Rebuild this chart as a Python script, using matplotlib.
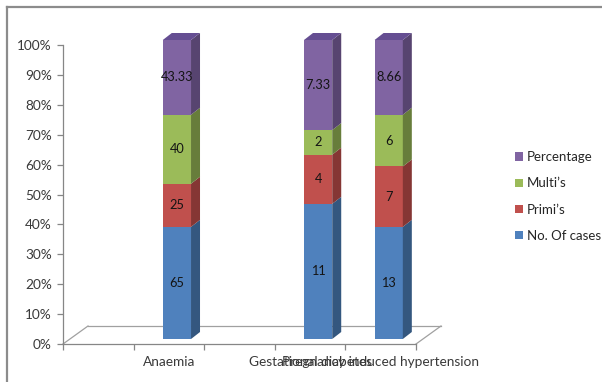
import numpy as np
import matplotlib
matplotlib.use("Agg")
import matplotlib.pyplot as plt
import matplotlib.transforms as mtransforms
from matplotlib.patches import Polygon, Patch
from matplotlib.lines import Line2D

plt.rcParams['font.family'] = ['Lato', 'DejaVu Sans']

# ---- data ----
categories = ['', 'Anaemia', '', 'Gestational diabetes', 'Pregnancy induced hypertension']
series_names = ['No. Of cases', 'Primi\u2019s', 'Multi\u2019s', 'Percentage']
no_cases = [np.nan, 65, np.nan, 11, 13]
primis = [np.nan, 25, np.nan, 4, 7]
multis = [np.nan, 40, np.nan, 2, 6]
percentage = [np.nan, 43.33, np.nan, 7.33, 8.66]
y_ticks = [0, 10, 20, 30, 40, 50, 60, 70, 80, 90, 100]
y_tick_labels = ['0%', '10%', '20%', '30%', '40%', '50%', '60%', '70%', '80%', '90%', '100%']

front_cols = ['#4F81BD', '#C0504D', '#9BBB59', '#8064A2']
side_cols = ['#34577F', '#853634', '#677D3B', '#574470']
top_cols = ['#654E92', '#654E92', '#654E92', '#654E92']

W, H = 602, 382
fig = plt.figure(figsize=(W / 100, H / 100), dpi=100)
ax = fig.add_axes([63 / W, 38 / H, 353 / W, 299 / H])
ax.set_xlim(0, len(categories))
ax.set_ylim(0, 1)

series = [np.array(no_cases, float), np.array(primis, float),
          np.array(multis, float), np.array(percentage, float)]
totals = np.nansum(np.vstack(series), axis=0)
xs = np.arange(len(categories)) + 0.5
valid = ~np.isnan(series[0])

# 3D offsets (pixels)
bar_off = (8, 5)
depth = (9, 7)
floor_depth = (25, 18)
bw = 0.4
off = mtransforms.offset_copy(ax.transData, fig, x=bar_off[0], y=bar_off[1], units='dots')

# floor
p00 = ax.transData.transform((0, 0))
p50 = ax.transData.transform((len(categories), 0))
fl = '#A0A0A0'
for a, b in [(p00, p00 + floor_depth), (p50, p50 + floor_depth),
             (p00 + floor_depth, p50 + floor_depth)]:
    ax.add_line(Line2D([a[0], b[0]], [a[1], b[1]], color=fl, lw=0.9,
                       transform=None, zorder=1, clip_on=False))

# bars
bottoms = np.zeros(len(categories))
for i, vals in enumerate(series):
    frac = np.where(valid, vals / np.where(totals == 0, 1, totals), 0)
    bars = ax.bar(xs[valid], frac[valid], bw, bottom=bottoms[valid],
                  color=front_cols[i], transform=off, zorder=3,
                  edgecolor='none', label=series_names[i], clip_on=False)
    for j in np.where(valid)[0]:
        x_r = xs[j] + bw / 2
        x_l = xs[j] - bw / 2
        b0 = off.transform((x_r, bottoms[j]))
        b1 = off.transform((x_r, bottoms[j] + frac[j]))
        side = [b0, b1, b1 + depth, b0 + depth]
        ax.add_patch(Polygon(side, closed=True, facecolor=side_cols[i],
                             edgecolor='none', transform=None, zorder=3, clip_on=False))
        if i == len(series) - 1:
            t0 = off.transform((x_l, bottoms[j] + frac[j]))
            t1 = off.transform((x_r, bottoms[j] + frac[j]))
            top = [t0, t1, t1 + depth, t0 + depth]
            ax.add_patch(Polygon(top, closed=True, facecolor=top_cols[i],
                                 edgecolor='none', transform=None, zorder=3, clip_on=False))
        ax.text(xs[j], bottoms[j] + frac[j] / 2, f"{vals[j]:g}", transform=off,
                ha='center', va='center', fontsize=9.2, color='#141414', zorder=5,
                clip_on=False)
    bottoms = bottoms + frac

# axes styling
for s in ['top', 'right']:
    ax.spines[s].set_visible(False)
for s in ['left', 'bottom']:
    ax.spines[s].set_color('#868686')
    ax.spines[s].set_linewidth(0.9)
ax.set_yticks(np.array(y_ticks) / 100)
ax.set_yticklabels(y_tick_labels)
ax.set_xticks(np.arange(len(categories) + 1))
ax.set_xticklabels([])
ax.set_xticks(xs, minor=True)
ax.set_xticklabels(categories, minor=True)
ax.tick_params(axis='x', which='major', length=4, color='#868686', width=0.9)
ax.tick_params(axis='x', which='minor', length=0, pad=9, labelsize=9.8, labelcolor='#3A3A3A')
ax.tick_params(axis='y', length=4, color='#868686', width=0.9, labelsize=9.8,
               labelcolor='#3A3A3A', pad=4)

# legend
leg_handles = [Patch(facecolor=c) for c in front_cols][::-1]
fig.legend(leg_handles, series_names[::-1], loc='center left',
           bbox_to_anchor=(503 / W, 1 - 196.5 / H), frameon=False,
           handlelength=0.6, handleheight=0.6, handletextpad=0.3,
           labelspacing=1.07, fontsize=9.5, labelcolor='#262626')

# chart border (left and top)
fig.add_artist(Line2D([6.5 / W, 6.5 / W], [0, 1 - 6.5 / H], color='#8C8C8C',
                      lw=1.6, transform=fig.transFigure))
fig.add_artist(Line2D([6.5 / W, 1], [1 - 6.5 / H, 1 - 6.5 / H], color='#8C8C8C',
                      lw=1.6, transform=fig.transFigure))

fig.savefig('out.png', dpi=100)
